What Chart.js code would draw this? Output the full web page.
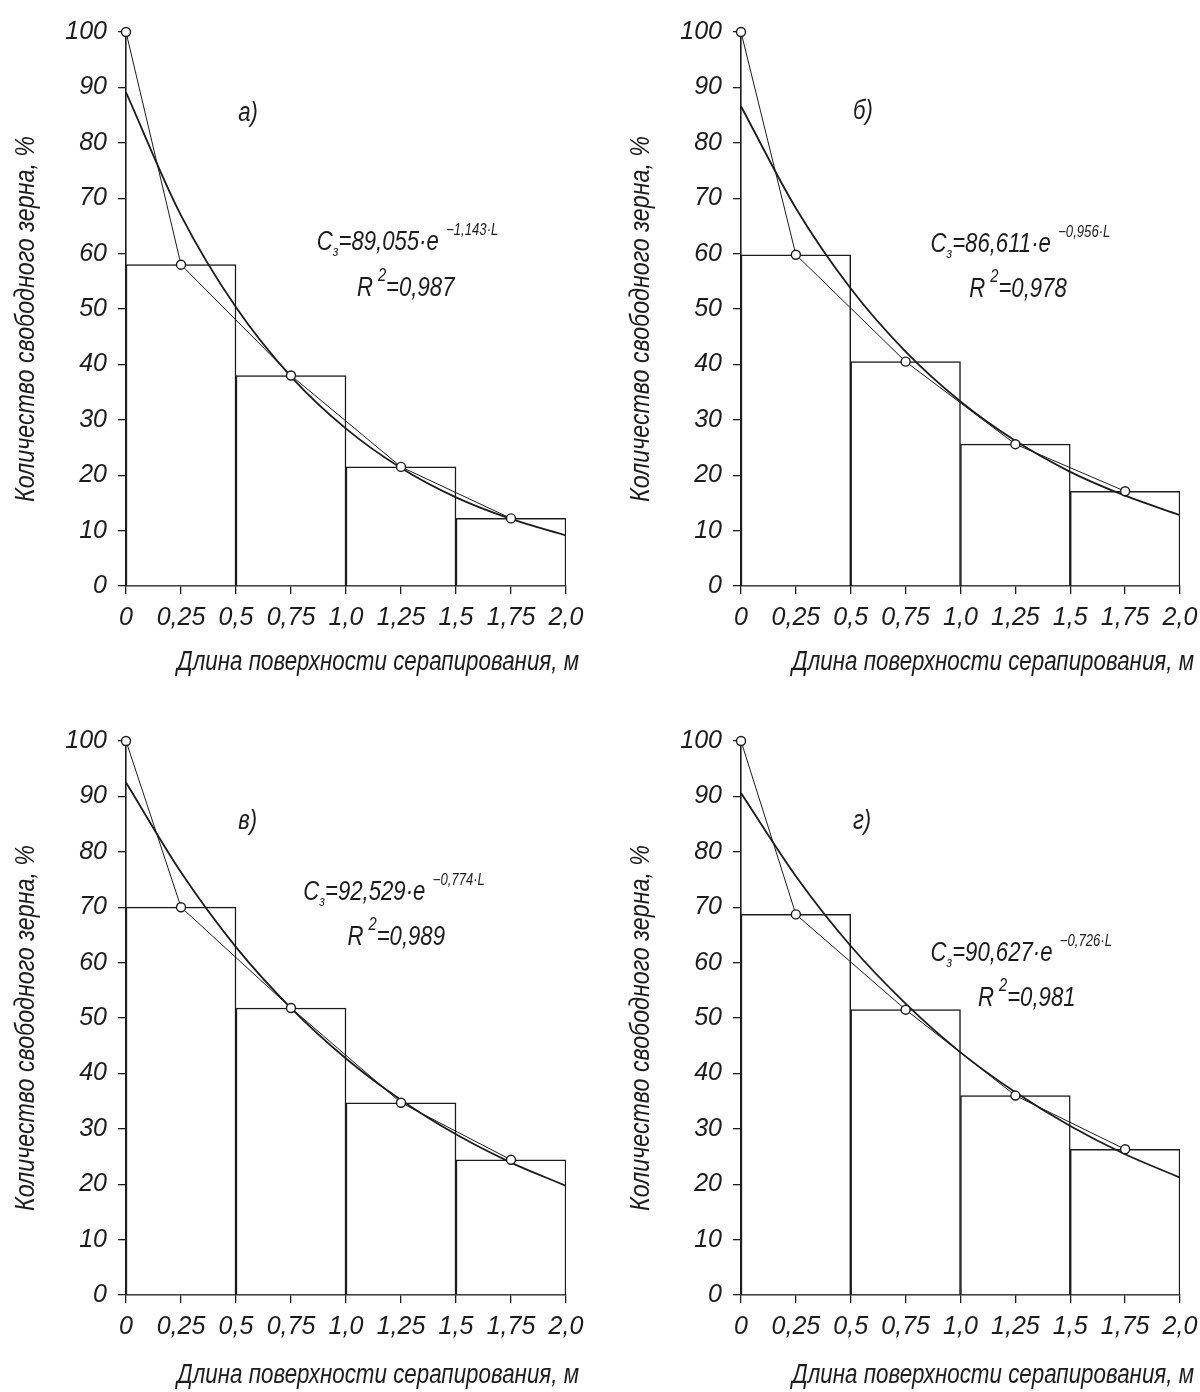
<!DOCTYPE html>
<html lang="ru">
<head>
<meta charset="utf-8">
<title>Количество свободного зерна</title>
<script src="https://cdn.jsdelivr.net/npm/chart.js@4.4.1/dist/chart.umd.min.js"></script>
<style>
  html, body { margin: 0; padding: 0; background: #fff; }
  #wrap { position: relative; width: 1200px; height: 1392px; }
  canvas { position: absolute; }
</style>
</head>
<body>
<div id="wrap">
  <canvas id="chA" width="600" height="696" style="left:0;top:0"></canvas>
  <canvas id="chB" width="600" height="696" style="left:600px;top:0"></canvas>
  <canvas id="chV" width="600" height="696" style="left:0;top:696px"></canvas>
  <canvas id="chG" width="600" height="696" style="left:600px;top:696px"></canvas>
</div>
<script>
// --- данные ---
const xTickLabels = ['0', '0,25', '0,5', '0,75', '1,0', '1,25', '1,5', '1,75', '2,0'];
const binLabels = ['0–0,5', '0,5–1,0', '1,0–1,5', '1,5–2,0'];
const pointX = [0, 0.25, 0.75, 1.25, 1.75];
const curveX = [0, 0.25, 0.5, 0.75, 1.0, 1.25, 1.5, 1.75, 2.0];

// а)
const barsA = [58, 38, 21.5, 12.2];
const pointsA = [100, 58, 38, 21.5, 12.2];
const curveA = [89.1, 66.9, 50.3, 37.8, 28.4, 21.3, 16.0, 12.1, 9.1];
// б)
const barsB = [59.8, 40.5, 25.6, 17.1];
const pointsB = [100, 59.8, 40.5, 25.6, 17.1];
const curveB = [86.6, 68.2, 53.7, 42.3, 33.3, 26.2, 20.6, 16.3, 12.8];
// в)
const barsV = [70, 51.8, 34.7, 24.4];
const pointsV = [100, 70, 51.8, 34.7, 24.4];
const curveV = [92.5, 76.3, 62.8, 51.8, 42.7, 35.2, 29.0, 23.9, 19.7];
// г)
const barsG = [68.7, 51.5, 36.0, 26.3];
const pointsG = [100, 68.7, 51.5, 36.0, 26.3];
const curveG = [90.6, 75.6, 63.0, 52.6, 43.8, 36.6, 30.5, 25.4, 21.2];

const X_TITLE = 'Длина поверхности серапирования, м';
const Y_TITLE = 'Количество свободного зерна, %';
const INK = '#1c1c1c';
const FAMILY = "'Liberation Sans Narrow', 'Liberation Sans', 'DejaVu Sans Condensed', sans-serif";
const SQUEEZE = 0.82; // узкий чертёжный шрифт

function font(size) {
    return 'italic ' + size + 'px ' + FAMILY;
}

// текст из кусков разного размера (индексы, степени), сжатый по горизонтали
function drawRuns(ctx, x, y, runs) {
    ctx.save();
    ctx.translate(x, y);
    ctx.scale(SQUEEZE, 1);
    let cx = 0;
    runs.forEach(r => {
        ctx.font = font(r.s);
        ctx.fillText(r.t, cx, r.dy || 0);
        cx += ctx.measureText(r.t).width + (r.gap || 0);
    });
    ctx.restore();
}

// надпись, подогнанная под нужную длину
function drawFitted(ctx, text, size, width) {
    ctx.font = font(size);
    const w = ctx.measureText(text).width;
    ctx.scale(width / w, 1);
    ctx.fillText(text, 0, 0);
}

const textPlugin = {
    id: 'panelText',
    afterDraw(chart, args, opts) {
        const { ctx, chartArea, scales } = chart;
        const sx = scales.x, sy = scales.y;
        ctx.save();
        ctx.fillStyle = INK;
        ctx.textBaseline = 'alphabetic';
        ctx.textAlign = 'left';

        drawRuns(ctx, sx.getPixelForValue(opts.letterAt[0]), sy.getPixelForValue(opts.letterAt[1]), [
            { t: opts.letter, s: 27 }
        ]);

        drawRuns(ctx, sx.getPixelForValue(opts.eqAt[0]), sy.getPixelForValue(opts.eqAt[1]), [
            { t: 'C', s: 27 },
            { t: 'з', s: 15, dy: 6 },
            { t: '=' + opts.coef + '·e', s: 27, gap: 9 },
            { t: '−' + opts.exp + '·L', s: 16, dy: -15 }
        ]);
        drawRuns(ctx, sx.getPixelForValue(opts.r2At[0]), sy.getPixelForValue(opts.r2At[1]), [
            { t: 'R', s: 27, gap: 6 },
            { t: '2', s: 18, dy: -15 },
            { t: '=' + opts.r2, s: 27 }
        ]);

        ctx.save();
        ctx.translate(chartArea.left + 51, chartArea.bottom + opts.xTitleGap);
        drawFitted(ctx, X_TITLE, 27, 402);
        ctx.restore();

        ctx.save();
        ctx.translate(chartArea.left - 100, (chartArea.top + chartArea.bottom) / 2 + 10);
        ctx.rotate(-Math.PI / 2);
        ctx.textAlign = 'center';
        ctx.textBaseline = 'middle';
        drawFitted(ctx, Y_TITLE, 27, 366);
        ctx.restore();

        ctx.restore();
    }
};

function makePanel(id, bars, points, curve, pad, text) {
    const axisLine = { display: true, color: INK, width: 1.6 };
    const tickGrid = { drawOnChartArea: false, drawTicks: true, tickLength: 8, color: INK, lineWidth: 1.3, offset: false };
    const tickFont = { family: FAMILY, size: 25, style: 'italic' };

    return new Chart(document.getElementById(id), {
        type: 'bar',
        data: {
            labels: binLabels,
            datasets: [
                {
                    type: 'line',
                    label: 'опыт',
                    data: pointX.map((x, i) => ({ x: x, y: points[i] })),
                    xAxisID: 'x',
                    borderColor: INK,
                    borderWidth: 1,
                    pointRadius: 4.5,
                    pointBorderWidth: 1.4,
                    pointBackgroundColor: '#fff',
                    pointBorderColor: INK,
                    tension: 0,
                    clip: 10,
                    order: 0
                },
                {
                    type: 'line',
                    label: 'аппроксимация',
                    data: curveX.map((x, i) => ({ x: x, y: curve[i] })),
                    xAxisID: 'x',
                    borderColor: INK,
                    borderWidth: 1.8,
                    pointRadius: 0,
                    cubicInterpolationMode: 'monotone',
                    order: 1
                },
                {
                    type: 'bar',
                    label: 'гистограмма',
                    data: bars,
                    xAxisID: 'xb',
                    backgroundColor: '#fff',
                    borderColor: INK,
                    borderWidth: 1.5,
                    barPercentage: 1,
                    categoryPercentage: 1,
                    grouped: false,
                    order: 2
                }
            ]
        },
        options: {
            responsive: false,
            animation: false,
            events: [],
            layout: { padding: pad },
            plugins: {
                legend: { display: false },
                tooltip: { enabled: false },
                panelText: text
            },
            scales: {
                x: {
                    type: 'linear',
                    offset: false,
                    min: 0,
                    max: 2,
                    afterFit: s => {
                        s.height = 696 - pad.top - pad.bottom - text.plotHeight;
                        s.paddingLeft = 0;
                        s.paddingRight = 0;
                    },
                    ticks: {
                        stepSize: 0.25,
                        autoSkip: false,
                        maxRotation: 0,
                        padding: 9,
                        color: INK,
                        font: tickFont,
                        callback: (v, i) => xTickLabels[i]
                    },
                    grid: tickGrid,
                    border: axisLine
                },
                xb: {
                    type: 'category',
                    display: false,
                    offset: true
                },
                y: {
                    min: 0,
                    max: 100,
                    afterFit: s => {
                        s.width = text.axisWidth;
                        s.paddingTop = 0;
                        s.paddingBottom = 0;
                    },
                    ticks: {
                        stepSize: 10,
                        padding: 11,
                        color: INK,
                        font: tickFont
                    },
                    grid: tickGrid,
                    border: axisLine
                }
            }
        },
        plugins: [textPlugin]
    });
}

makePanel('chA', barsA, pointsA, curveA, { left: 0, right: 34, top: 32, bottom: 0 }, {
    axisWidth: 126, plotHeight: 554, xTitleGap: 84,
    letter: 'а)', letterAt: [0.51, 84.0],
    coef: '89,055', exp: '1,143', eqAt: [0.867, 60.6],
    r2: '0,987', r2At: [1.05, 52.3]
});
makePanel('chB', barsB, pointsB, curveB, { left: 0, right: 20, top: 32, bottom: 0 }, {
    axisWidth: 141, plotHeight: 554, xTitleGap: 84,
    letter: 'б)', letterAt: [0.51, 84.3],
    coef: '86,611', exp: '0,956', eqAt: [0.863, 60.3],
    r2: '0,978', r2At: [1.04, 52.2]
});
makePanel('chV', barsV, pointsV, curveV, { left: 0, right: 34, top: 45, bottom: 0 }, {
    axisWidth: 126, plotHeight: 554, xTitleGap: 88,
    letter: 'в)', letterAt: [0.51, 84.2],
    coef: '92,529', exp: '0,774', eqAt: [0.806, 71.3],
    r2: '0,989', r2At: [1.007, 63.2]
});
makePanel('chG', barsG, pointsG, curveG, { left: 0, right: 20, top: 45, bottom: 0 }, {
    axisWidth: 141, plotHeight: 554, xTitleGap: 88,
    letter: 'г)', letterAt: [0.51, 84.2],
    coef: '90,627', exp: '0,726', eqAt: [0.863, 60.2],
    r2: '0,981', r2At: [1.08, 52.1]
});
</script>
</body>
</html>
